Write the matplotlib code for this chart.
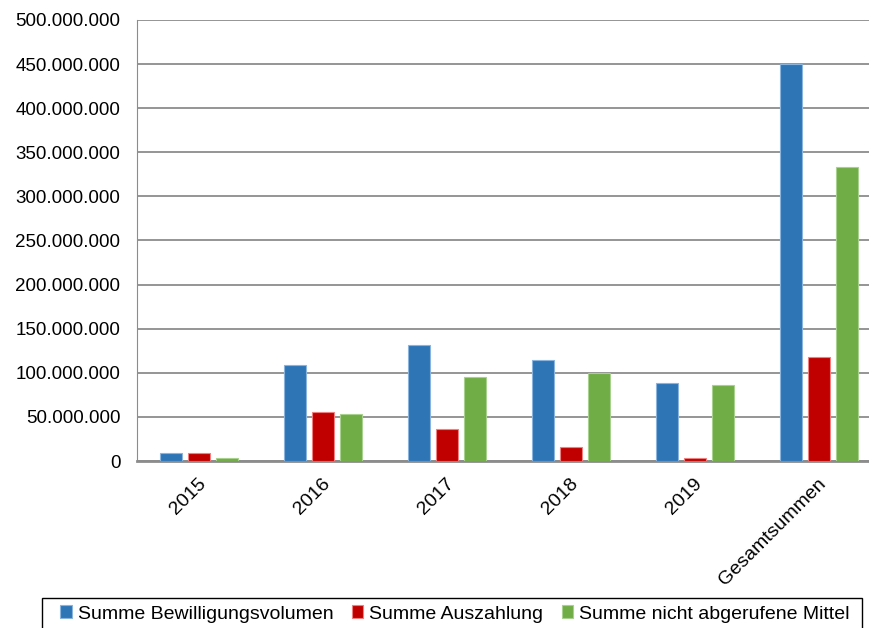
import matplotlib.pyplot as plt
from matplotlib.patches import Rectangle
import numpy as np

plt.rcParams['font.family'] = ['Liberation Sans', 'DejaVu Sans']

kategorien = ['2015', '2016', '2017', '2018', '2019', 'Gesamtsummen']
bewilligung = [9e6, 108.5e6, 131e6, 114.5e6, 88e6, 450e6]
auszahlung = [9e6, 55e6, 36e6, 15.5e6, 3.4e6, 118e6]
nicht_abgerufen = [3.4e6, 53e6, 95.5e6, 99.5e6, 86.5e6, 333e6]
serien = ['Summe Bewilligungsvolumen', 'Summe Auszahlung', 'Summe nicht abgerufene Mittel']

farben = ['#2E75B6', '#C00000', '#70AD47']
kanten = ['#8AB4DE', '#F08080', '#A9D18E']

fig = plt.figure(figsize=(8.7, 6.28), dpi=100)
ax = fig.add_axes([137/870, 1 - 461/628, 744/870, 441/628])

x = np.arange(len(kategorien))
breite = 0.177
abstand = 0.222
for i, werte in enumerate([bewilligung, auszahlung, nicht_abgerufen]):
    ax.bar(x + (i - 1) * abstand, werte, breite, color=farben[i],
           edgecolor=kanten[i], linewidth=0.8, label=serien[i], zorder=3)

ax.set_xlim(-0.5, 5.5)
ax.set_ylim(0, 500e6)
yticks = np.arange(0, 500e6 + 1, 50e6)
ax.set_yticks(yticks)
ax.set_yticklabels([f'{int(v):,}'.replace(',', '.') for v in yticks], fontsize=13.5)
ax.set_xticks(x - 0.01)
ax.set_xticklabels(kategorien, rotation=45, ha='right', rotation_mode='anchor', fontsize=14)
ax.tick_params(length=0)
ax.tick_params(axis='y', pad=12)
ax.tick_params(axis='x', pad=10)
ax.grid(axis='y', color='#8C8C8C', linewidth=1.3, zorder=0)

for s in ['top', 'right']:
    ax.spines[s].set_visible(False)
ax.spines['left'].set_color('#8C8C8C')
ax.spines['bottom'].set_color('#8C8C8C')
ax.spines['bottom'].set_linewidth(2)

# Legendenrahmen separat zeichnen
fig.patches.append(Rectangle((42/870, -5/628), 820/870, 35/628, transform=fig.transFigure,
                             facecolor='white', edgecolor='black', linewidth=1))
leg = fig.legend(loc='center', bbox_to_anchor=(455/870, 1 - 614/628),
                 ncol=3, fontsize=14, frameon=False,
                 handlelength=0.6, handleheight=0.6, handletextpad=0.3, columnspacing=0.95,
                 borderpad=0, borderaxespad=0)

fig.savefig('out.png', dpi=100)
